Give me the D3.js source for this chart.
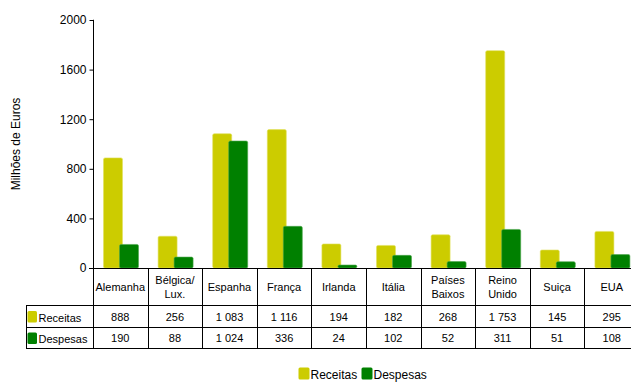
<!DOCTYPE html>
<html><head><meta charset="utf-8">
<script src="https://cdn.jsdelivr.net/npm/d3@7/dist/d3.min.js"></script>
<style>
body{margin:0;background:#fff;}
svg{display:block;font-family:"Liberation Sans",Arial,sans-serif;}
</style></head>
<body>
<svg id="c" width="631" height="382"></svg>
<script>
const categories = [["Alemanha"],["Bélgica/","Lux."],["Espanha"],["França"],["Irlanda"],["Itália"],["Países","Baixos"],["Reino","Unido"],["Suiça"],["EUA"]];
const receitas = [888,256,1083,1116,194,182,268,1753,145,295];
const despesas = [190,88,1024,336,24,102,52,311,51,108];
const receitasLabels = ["888","256","1 083","1 116","194","182","268","1 753","145","295"];
const despesasLabels = ["190","88","1 024","336","24","102","52","311","51","108"];
const yTicks = [0,400,800,1200,1600,2000];
const seriesNames = ["Receitas","Despesas"];
const colors = ["#cccc00","#008000"];
const strokeColors = ["#e0e060","#4da64d"];

const svg = d3.select("#c");
const keys = categories.map((c,i)=>"c"+i);
const x = d3.scaleBand().domain(keys).range([93,639]).paddingInner(0).paddingOuter(0);
const y = d3.scaleLinear().domain([0,2000]).range([268,20]);

const tableTop = 268, headerBottom = 305.5, row1Bottom = 327.5, tableBottom = 348.5, tableLeft = 26;

// y axis
const yAxis = d3.axisLeft(y).tickValues(yTicks).tickSize(4).tickPadding(3).tickFormat(d3.format("d"));
const ga = svg.append("g").attr("transform","translate(93.5,0)").call(yAxis);
ga.select(".domain").attr("stroke","#000").attr("d","M-0.5,"+y(2000)+"H0V"+tableBottom);
ga.selectAll(".tick line").attr("stroke","#000");
ga.selectAll(".tick text").attr("font-size","12px").attr("fill","#000").attr("font-family","Liberation Sans, Arial, sans-serif");

// y label
svg.append("text").attr("transform","translate(19.5,"+144+") rotate(-90)")
  .attr("text-anchor","middle").attr("font-size","12px").attr("fill","#000").text("Milhões de Euros");

// bars
const series = [receitas, despesas];
const offsets = [10.5, 26.5];
const bw = 19;
series.forEach((vals,si)=>{
  svg.append("g").selectAll("rect").data(vals).join("rect")
    .attr("x",(d,i)=>x(keys[i])+offsets[si])
    .attr("y",d=>y(d))
    .attr("width",bw)
    .attr("height",d=>y(0)-y(d))
    .attr("rx",1.5)
    .attr("fill",colors[si])
    .attr("stroke",strokeColors[si]).attr("stroke-width",0.6);
});

// baseline
svg.append("line").attr("x1",89).attr("x2",639).attr("y1",y(0)+0.5).attr("y2",y(0)+0.5).attr("stroke","#000");

// table lines
const tl = svg.append("g").attr("stroke","#000").attr("stroke-width",1);
[headerBottom,row1Bottom,tableBottom].forEach(yy=>{
  tl.append("line").attr("x1",tableLeft).attr("x2",639).attr("y1",yy).attr("y2",yy);
});
tl.append("line").attr("x1",tableLeft+0.5).attr("x2",tableLeft+0.5).attr("y1",headerBottom).attr("y2",tableBottom);
keys.forEach((k,i)=>{
  if(i===0) return;
  const xx = Math.round(x(k))+0.5;
  tl.append("line").attr("x1",xx).attr("x2",xx).attr("y1",tableTop).attr("y2",tableBottom);
});

// header labels
const hg = svg.append("g").attr("font-size","11px").attr("text-anchor","middle").attr("fill","#000");
categories.forEach((lines,i)=>{
  const cx = x(keys[i]) + x.bandwidth()/2;
  const mid = (tableTop+headerBottom)/2;
  const lh = 14;
  lines.forEach((ln,j)=>{
    hg.append("text").attr("x",cx).attr("y",mid + (j-(lines.length-1)/2)*lh + 4).text(ln);
  });
});

// row values
const rowsLabels = [receitasLabels, despesasLabels];
const rowMids = [(headerBottom+row1Bottom)/2, (row1Bottom+tableBottom)/2];
rowsLabels.forEach((labs,ri)=>{
  const g = svg.append("g").attr("font-size","11px").attr("text-anchor","middle").attr("fill","#000");
  labs.forEach((t,i)=>{
    g.append("text").attr("x",x(keys[i])+x.bandwidth()/2).attr("y",rowMids[ri]+4).text(t);
  });
  svg.append("rect").attr("x",27.5).attr("y",rowMids[ri]-5.5).attr("width",9.5).attr("height",11.5).attr("rx",1.5)
    .attr("fill",colors[ri]);
  svg.append("text").attr("x",38.5).attr("y",rowMids[ri]+5).attr("font-size","11px").attr("fill","#000").text(seriesNames[ri]);
});

// legend
const lg = svg.append("g");
const legX = [298.5, 361.5];
seriesNames.forEach((n,i)=>{
  lg.append("rect").attr("x",legX[i]).attr("y",367.5).attr("width",11).attr("height",12).attr("rx",1.5).attr("fill",colors[i]);
  lg.append("text").attr("x",legX[i]+12).attr("y",379).attr("font-size","12px").attr("fill","#000").text(n);
});
</script>
</body></html>
